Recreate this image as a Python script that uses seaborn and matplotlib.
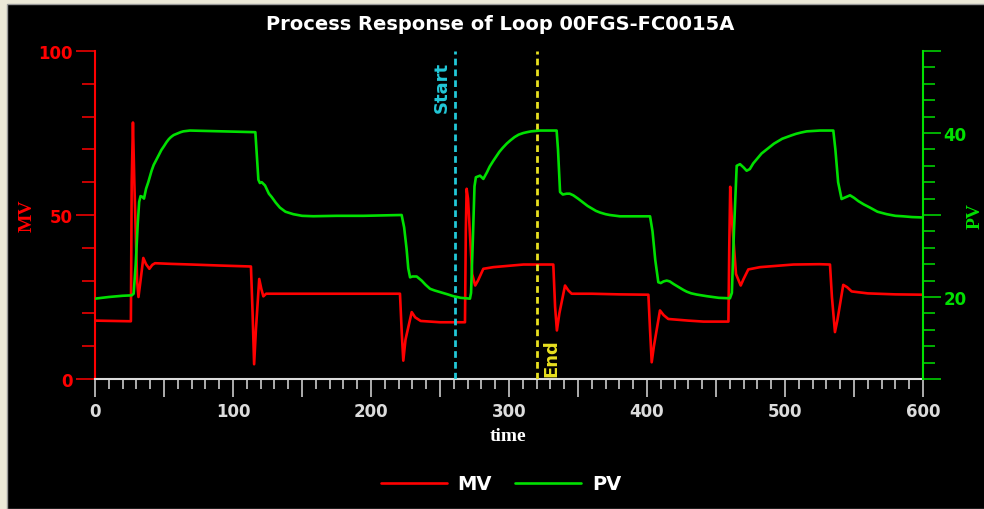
import numpy as np
import pandas as pd
import matplotlib
matplotlib.use("Agg")
import matplotlib.pyplot as plt
from matplotlib.patches import Rectangle
from matplotlib.ticker import MultipleLocator, FixedLocator, FuncFormatter
import seaborn as sns

# ---- data ----
mv_time = [0, 26.0, 26.6, 27.5, 28.5, 30.5, 31.5, 33, 35, 37, 39.4, 41.5, 43.5, 55, 70, 90, 113,
           114.2, 115.3, 116.6, 119, 120.5, 122, 124, 130, 160, 200, 221, 222.3, 223.4, 225,
           229.5, 232, 236, 250, 268.1, 268.7, 269.3, 270.3, 273.3, 275.5, 277.5, 281.4, 288.6,
           310.4, 332.1, 333.4, 334.7, 336.5, 340.6, 343, 345.4, 360, 380, 401, 402.2, 403.4,
           405, 409.4, 412, 415.4, 430, 441, 459, 459.6, 460.3, 461.3, 464.5, 467.9, 470, 473.4,
           481.9, 506, 525, 532.6, 534, 536.2, 538, 542.2, 545, 548.3, 560, 580, 600]
mv_value = [17.8, 17.6, 60, 78.2, 60, 30, 25.0, 30, 36.9, 35, 33.6, 34.8, 35.3, 35.1, 34.9, 34.6, 34.3,
            20, 4.5, 15, 30.5, 27.5, 25.2, 26.0, 26.0, 26.0, 26.0, 26.0, 14, 5.6, 12,
            20.4, 18.8, 17.7, 17.3, 17.3, 45, 58.0, 55, 32, 28.5, 30, 33.6, 34.1,
            34.9, 34.9, 22, 14.8, 20, 28.5, 27, 26.0, 26.0, 25.8, 25.7, 15, 5.1,
            10, 20.9, 19.5, 18.3, 17.8, 17.5, 17.5, 40, 58.6, 50, 32, 28.5, 30.5, 33.4,
            34.1, 34.9, 35.0, 34.9, 25, 14.3, 18, 28.7, 28, 26.7, 26.1, 25.8, 25.7]

pv_time = [0, 10, 20, 26.5, 28, 29.5, 31, 32, 33, 34.5, 35.5, 37, 38.6, 40, 41, 42.5, 44.7, 46.5,
           48, 50, 51.9, 53.5, 55, 57, 59.2, 62, 64, 68.8, 80, 93, 105, 116.2, 117, 118.4, 119.5,
           120.8, 123.2, 126, 128, 131, 134, 138, 143.7, 150, 158.2, 175, 194.4, 210, 222.2, 224,
           225.8, 227, 228.3, 230, 233.1, 236.7, 239.5, 242.8, 246, 250, 255, 259.7, 265, 271.7,
           272.5, 273.8, 275, 276, 279, 281.4, 284, 286, 288.6, 291, 293, 295.5, 298.3, 301, 304,
           307, 310.4, 313, 316, 319, 322.5, 334.5, 335.5, 337, 339, 341.8, 344, 346.6, 350, 353.9,
           357, 360, 363, 366, 370, 373, 380.4, 395, 402.2, 404, 406, 408.2, 410, 412, 414.3,
           416.5, 419.1, 421.5, 424, 426.5, 428.8, 432, 436, 443.3, 452, 460.1, 461.5, 463, 465,
           467.4, 470, 472.2, 474.5, 477, 480, 483, 486, 489.1, 492, 495, 498, 501.2, 504.5, 508,
           511.5, 515.7, 520, 525.4, 535, 536.5, 538.5, 541, 543, 547.1, 550, 553.1, 557, 561.6,
           567, 573.7, 580, 585.7, 592, 600]
pv_value = [19.8, 20.0, 20.15, 20.2, 20.4, 24, 29, 31.6, 32.3, 32.2, 32.0, 33.2, 34.0, 34.8, 35.4, 36.1, 36.8, 37.4,
            37.9, 38.4, 38.9, 39.25, 39.5, 39.75, 39.9, 40.1, 40.2, 40.3, 40.25, 40.2, 40.15, 40.1, 38, 34.3, 33.9,
            34.0, 33.6, 32.6, 32.2, 31.5, 30.9, 30.4, 30.1, 29.9, 29.85, 29.9, 29.9, 29.95, 30.0, 28.5,
            25.85, 23.5, 22.4, 22.5, 22.5, 22.0, 21.5, 21.0, 20.8, 20.6, 20.35, 20.1, 19.9, 19.8,
            20.5, 27, 33.5, 34.6, 34.8, 34.4, 35.2, 35.9, 36.6, 37.2, 37.7, 38.2, 38.7, 39.1, 39.5,
            39.8, 40.0, 40.1, 40.2, 40.25, 40.3, 40.3, 38, 32.8, 32.5, 32.6, 32.6, 32.4, 32.0, 31.5,
            31.1, 30.8, 30.5, 30.3, 30.1, 30.0, 29.84, 29.84, 29.84, 28, 24.5, 21.8, 21.7, 21.9, 22.0,
            21.9, 21.6, 21.35, 21.1, 20.85, 20.65, 20.45, 20.3, 20.1, 19.9, 19.84, 20.5, 28, 36.0,
            36.2, 35.8, 35.4, 35.6, 36.3, 36.9, 37.5, 37.9, 38.3, 38.7, 39.0, 39.3, 39.5, 39.7, 39.9,
            40.05, 40.2, 40.25, 40.3, 40.3, 38, 34, 31.95, 32.1, 32.4, 32.1, 31.7, 31.3, 30.9,
            30.4, 30.1, 29.9, 29.84, 29.75, 29.7]

start_time = 261
end_time = 320
title_text = "Process Response of Loop 00FGS-FC0015A"

mv_df = pd.DataFrame({"time": mv_time, "MV": mv_value})
pv_df = pd.DataFrame({"time": pv_time, "PV": pv_value})

# ---- style ----
sns.set_theme(style="ticks")
plt.rcParams["font.family"] = ["DejaVu Sans"]

RED = "#FF0000"
GREEN = "#00E000"
GRAY = "#DCDCDC"
CYAN = "#22C8D8"
YELLOW = "#E8E020"

W, H = 984, 510
fig = plt.figure(figsize=(W / 100, H / 100), dpi=100, facecolor="#ECE9D8")
fig.patches.append(Rectangle((7 / W, 0), 1, 1 - 5 / H, transform=fig.transFigure,
                             facecolor="black", edgecolor="#9A9A9A", linewidth=1, zorder=-10))

ax = fig.add_axes([95 / W, 1 - 380 / H, (923 - 95) / W, (380 - 52) / H])
ax.set_facecolor("black")
ax2 = ax.twinx()

sns.lineplot(data=mv_df, x="time", y="MV", ax=ax, color=RED, linewidth=1.9,
             estimator=None, sort=False, legend=False, label="MV")
sns.lineplot(data=pv_df, x="time", y="PV", ax=ax2, color=GREEN, linewidth=1.9,
             estimator=None, sort=False, legend=False, label="PV")
for a in (ax, ax2):
    for ln in a.lines:
        ln.set_solid_joinstyle("round")
    if a.get_legend():
        a.get_legend().remove()

ax.set_xlim(0, 600)
ax.set_ylim(0, 100)
ax2.set_ylim(10, 50)

# Start / End markers
ax.axvline(start_time, color=CYAN, linestyle=(0, (2.4, 1.5)), linewidth=2.0, zorder=5)
ax.axvline(end_time, color=YELLOW, linestyle=(0, (2.4, 1.5)), linewidth=2.0, zorder=5)
ax.text(start_time - 3.5, 97, "Start", rotation=90, color=CYAN, fontsize=13, fontweight="bold",
        ha="right", va="top", zorder=6)
ax.text(end_time + 4, 0.8, "End", rotation=90, color=YELLOW, fontsize=13, fontweight="bold",
        ha="left", va="bottom", zorder=6)

# spines
for a in (ax, ax2):
    a.spines["top"].set_visible(False)
ax.spines["left"].set_color(RED)
ax.spines["bottom"].set_color(GRAY)
ax.spines["right"].set_visible(False)
ax2.spines["left"].set_visible(False)
ax2.spines["bottom"].set_visible(False)
ax2.spines["right"].set_color(GREEN)
for s in ("left", "bottom"):
    ax.spines[s].set_linewidth(1.5)
ax2.spines["right"].set_linewidth(1.5)

# x ticks
ax.xaxis.set_major_locator(MultipleLocator(50))
ax.xaxis.set_minor_locator(MultipleLocator(10))
ax.xaxis.set_major_formatter(FuncFormatter(lambda v, p: f"{int(v)}" if int(round(v)) % 100 == 0 else ""))
ax.tick_params(axis="x", which="major", length=13, width=1.1, color=GRAY, labelcolor=GRAY,
               labelsize=12, pad=3.5)
ax.tick_params(axis="x", which="minor", length=7.5, width=1.1, color=GRAY)

# left y ticks
ax.yaxis.set_major_locator(FixedLocator([0, 50, 100]))
ax.yaxis.set_minor_locator(MultipleLocator(10))
ax.tick_params(axis="y", which="major", length=13.5, width=1.1, color=RED, labelcolor=RED,
               labelsize=12, pad=2.5)
ax.tick_params(axis="y", which="minor", length=9.2, width=1.1, color=RED)

# right y ticks
ax2.yaxis.set_major_locator(MultipleLocator(10))
ax2.yaxis.set_minor_locator(MultipleLocator(2))
ax2.yaxis.set_major_formatter(FuncFormatter(lambda v, p: f"{int(v)}" if int(round(v)) in (20, 40) else ""))
ax2.tick_params(axis="y", which="major", length=13, width=1.1, color=GREEN, labelcolor=GREEN,
                labelsize=12, pad=1.5)
ax2.tick_params(axis="y", which="minor", length=8.6, width=1.1, color=GREEN)

for lab in ax.get_xticklabels() + ax.get_yticklabels() + ax2.get_yticklabels():
    lab.set_fontweight("bold")

# axis labels
ax.set_xlabel("")
ax.set_ylabel("")
ax2.set_ylabel("")
fig.text(27 / W, 1 - 216 / H, "MV", rotation=90, color=RED, fontsize=14, fontweight="bold",
         family="Liberation Serif", ha="center", va="center")
fig.text(975 / W, 1 - 216 / H, "PV", rotation=90, color=GREEN, fontsize=14, fontweight="bold",
         family="Liberation Serif", ha="center", va="center")
fig.text(508 / W, 1 - 437 / H, "time", color="white", fontsize=14, fontweight="bold",
         family="Liberation Serif", ha="center", va="center")

# title
fig.text(500 / W, 1 - 24 / H, title_text, color="white", fontsize=14, fontweight="bold",
         ha="center", va="center")

# legend
handles = [ax.lines[0], ax2.lines[0]]
leg = fig.legend(handles, ["MV", "PV"], loc="center", bbox_to_anchor=(501 / W, 1 - 485 / H),
                 ncol=2, frameon=False, handlelength=3.4, handletextpad=0.55, columnspacing=1.2,
                 prop={"size": 14, "weight": "bold"})
for t in leg.get_texts():
    t.set_color("white")

fig.savefig("out.png", dpi=100, facecolor=fig.get_facecolor())
